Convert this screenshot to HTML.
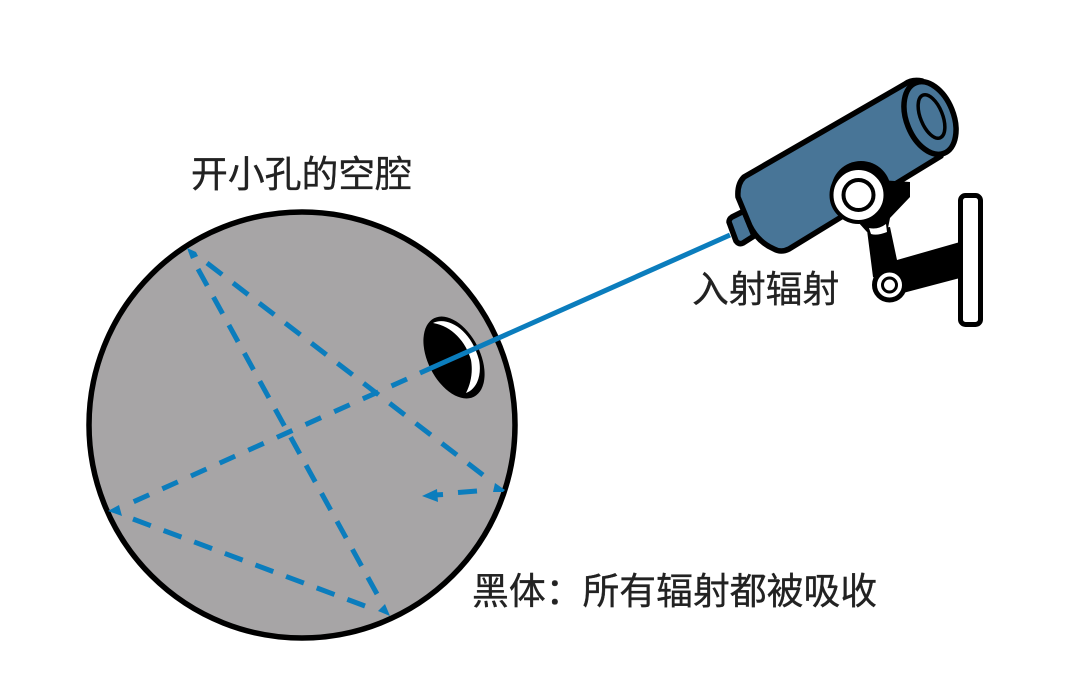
<!DOCTYPE html>
<html><head><meta charset="utf-8"><style>
html,body{margin:0;padding:0;background:#fff}
svg{display:block}
text{font-family:"Liberation Sans","Noto Sans CJK SC",sans-serif;font-size:36.85px;fill:#222;stroke:#222;stroke-width:.35}
</style></head><body>
<svg width="1065" height="680" viewBox="0 0 1065 680" xmlns="http://www.w3.org/2000/svg">
<circle cx="302" cy="425" r="213" fill="#a7a5a6" stroke="#000" stroke-width="5.5"/>
<ellipse cx="454" cy="357.5" rx="26" ry="44" transform="rotate(-27 454 357.5)" fill="#000"/>
<path d="M433,323 C447,316 471,329 479,360 C482,375 477,389 466,393 C471,383 473,372 471,360 C466,342 452,326 433,323Z" fill="#fff"/>
<g fill="none" stroke="#0b7dbd" stroke-width="5">
<line x1="730" y1="235" x2="420" y2="373"/>
<path d="M407,379 L133,502" stroke-dasharray="17 14.4"/>
<path d="M133,519 L365,606" stroke-dasharray="19 13.7"/>
<path d="M377,594 L198,269" stroke-dasharray="19 13"/>
<path d="M207,263 L483,475" stroke-dasharray="19 13.9"/>
<path d="M458,492.5 L477,491"/>
<path d="M435,495 L443,494.5"/>
</g>
<g fill="#0b7dbd">
<path d="M108,511 L119,505 L122,516Z"/>
<path d="M390,616 L378,611 L385,604Z"/>
<path d="M187,248 L196,252 L198,256 L191,259Z"/>
<path d="M505,490 L495,483 L493,492 L503,492Z"/>
<path d="M422,496 L437,489 L438,502Z"/>
</g>
<!-- arm -->
<path d="M867,230 L890,227 L897,260 L960,242 L960,278 L903,293 L873,277Z" fill="#000"/>
<rect x="960.5" y="195.5" width="20" height="129" rx="5" fill="#fff" stroke="#000" stroke-width="5"/>
<circle cx="889.5" cy="285" r="15" fill="#fff" stroke="#000" stroke-width="5"/>
<circle cx="889.5" cy="285" r="7" fill="#fff" stroke="#000" stroke-width="3"/>
<!-- nozzle -->
<path d="M729,222 Q729,219 732,217 L744,211 L754,236 L743,243 Q739,245 736,241 Z" fill="#487597" stroke="#000" stroke-width="5.5" stroke-linejoin="round"/>
<!-- body -->
<path d="M744,177 L905,84 Q912,79 922,81 L941,156 L789,249 Q781,253 774,249 Q758,242 750,226 L738,197 Q737,184 744,177Z" fill="#487597" stroke="#000" stroke-width="5.5" stroke-linejoin="round"/>
<ellipse cx="930" cy="118" rx="23.5" ry="38" transform="rotate(-22 930 118)" fill="#487597" stroke="#000" stroke-width="5.5"/>
<ellipse cx="931.5" cy="116.5" rx="11" ry="23" transform="rotate(-22 931.5 116.5)" fill="#487597" stroke="#000" stroke-width="3.5"/>
<!-- joint -->
<circle cx="861" cy="191" r="30" fill="#000"/>
<path d="M880,180 L910,182 L910,197 L890,218 L888,228 L867,232 L858,222Z" fill="#000"/>
<path d="M869,228 Q878,230 886,224 L887,232 Q877,236 871,234Z" fill="#fff"/>
<circle cx="858.5" cy="195" r="27" fill="#fff" stroke="#000" stroke-width="4"/>
<circle cx="858.5" cy="195" r="15" fill="#fff" stroke="#000" stroke-width="4"/>
<text x="191" y="187">开小孔的空腔</text>
<text x="692" y="302">入射辐射</text>
<text x="472" y="604">黑体：所有辐射都被吸收</text>
</svg>
</body></html>
